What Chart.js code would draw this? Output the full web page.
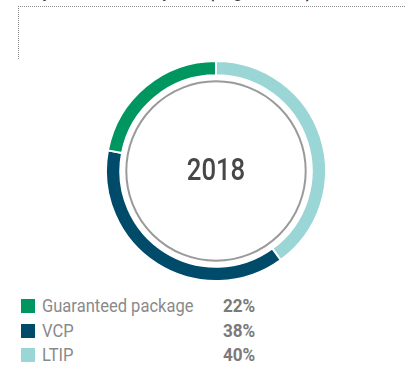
<!DOCTYPE html>
<html>
<head>
<meta charset="utf-8">
<script src="https://cdn.jsdelivr.net/npm/chart.js@4/dist/chart.umd.min.js"></script>
<style>
  body { margin: 0; background: #fff; width: 406px; height: 367px; overflow: hidden; position: relative;
         font-family: Roboto, sans-serif; }
  #title { position: absolute; left: 24px; top: -17px; font: bold 16.5px Roboto, sans-serif;
           color: #3c3c3c; white-space: nowrap; transform: scaleX(0.95); transform-origin: left; }
  #box { position: absolute; left: 18px; top: 6px; width: 400px; height: 52px;
         border-top: 1px dotted #8a8a8a; border-left: 1px dotted #8a8a8a; }
  #wrap { position: absolute; left: 105px; top: 60px; width: 222px; height: 222px; }
  #legend { position: absolute; left: 21px; top: 297px; }
  .row { position: relative; height: 24.5px; }
  .sw { position: absolute; left: 0; top: 2px; width: 14px; height: 14px; }
  .lbl { position: absolute; left: 21px; top: -3px; font-size: 19px; color: #8a8a8a; white-space: nowrap;
         transform: scaleX(0.87); transform-origin: left; }
  .pct { position: absolute; left: 202px; top: -3px; font-size: 19px; font-weight: bold; color: #7a7a7a;
         transform: scaleX(0.9); transform-origin: left; }
</style>
</head>
<body>
<div id="title">Pay mix of the Group CEO (target values)</div>
<div id="box"></div>
<div id="wrap"><canvas id="ring"></canvas></div>
<div id="legend"></div>
<script>
var year = "2018";
var labels = ["LTIP", "VCP", "Guaranteed package"];
var shares = [40, 38, 22];
var colors = ["#9bd6d7", "#004a6a", "#00965f"];
// legend lists the parts in reverse order
var legendOrder = [2, 1, 0];

// thin grey circle inside the ring plus the year in the middle
var centerPlugin = {
  id: "centerPlugin",
  afterDraw: function(chart) {
    var arc = chart.getDatasetMeta(0).data[0];
    var ctx = chart.ctx;
    ctx.save();
    ctx.beginPath();
    ctx.arc(arc.x, arc.y, arc.innerRadius - 6, 0, Math.PI * 2);
    ctx.strokeStyle = "#9a9a9a";
    ctx.lineWidth = 2;
    ctx.stroke();
    // narrow the year a bit so it looks condensed
    ctx.translate(arc.x, arc.y + 1);
    ctx.scale(0.83, 1);
    ctx.fillStyle = "#474747";
    ctx.font = "500 31px Roboto, sans-serif";
    ctx.textAlign = "center";
    ctx.textBaseline = "middle";
    ctx.fillText(year, 0, 0);
    ctx.restore();
  }
};

new Chart(document.getElementById("ring"), {
  type: "doughnut",
  data: {
    labels: labels,
    datasets: [{
      data: shares,
      backgroundColor: colors,
      borderColor: "#ffffff",
      borderWidth: 2
    }]
  },
  options: {
    responsive: true,
    maintainAspectRatio: false,
    animation: false,
    cutout: "87%",
    plugins: {
      legend: { display: false },
      tooltip: { enabled: false }
    }
  },
  plugins: [centerPlugin]
});

var legend = document.getElementById("legend");
for (var i = 0; i < legendOrder.length; i++) {
  var k = legendOrder[i];
  var row = document.createElement("div");
  row.className = "row";
  row.innerHTML = '<div class="sw" style="background:' + colors[k] + '"></div>' +
    '<div class="lbl">' + labels[k] + '</div>' +
    '<div class="pct">' + shares[k] + '%</div>';
  legend.appendChild(row);
}
</script>
</body>
</html>
